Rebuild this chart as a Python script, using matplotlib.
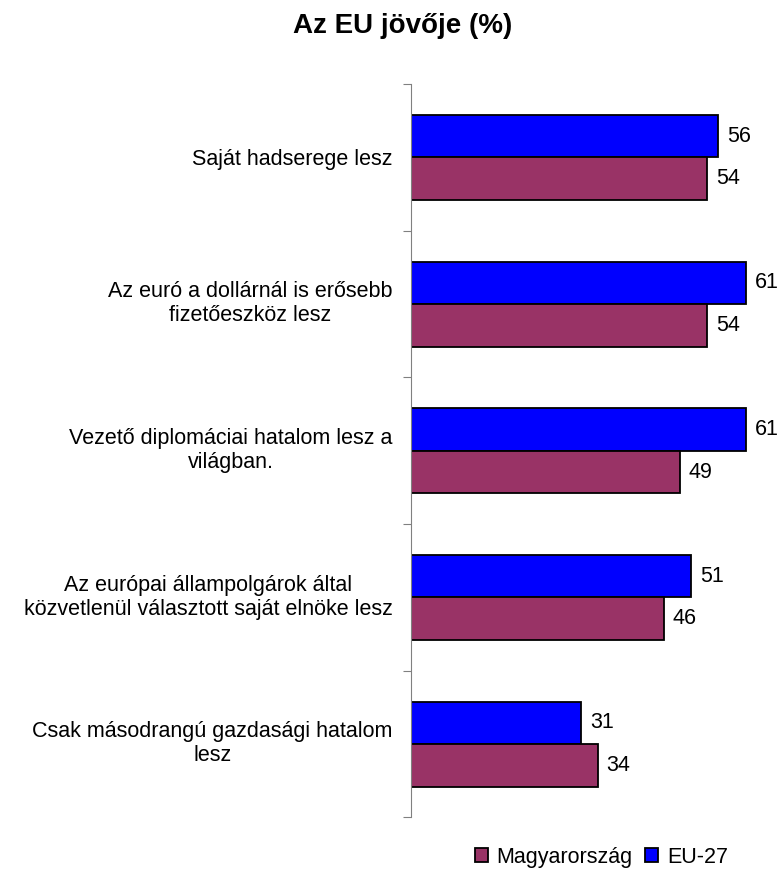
import numpy as np
import matplotlib.pyplot as plt

plt.rcParams['font.family'] = ['Liberation Sans', 'DejaVu Sans']

categories = [
    "Saját hadserege lesz",
    "Az euró a dollárnál is erősebb\nfizetőeszköz lesz",
    "Vezető diplomáciai hatalom lesz a\nvilágban.",
    "Az európai állampolgárok által\nközvetlenül választott saját elnöke lesz",
    "Csak másodrangú gazdasági hatalom\nlesz",
]
eu27 = [56, 61, 61, 51, 31]
magyar = [54, 54, 49, 46, 34]

fig = plt.figure(figsize=(7.78, 8.71), dpi=100)
ax = fig.add_axes([0.528, 0.0615, 0.459, 0.842])

y = np.arange(len(categories))
h = 0.29
b1 = ax.barh(y - h / 2, eu27, height=h, color='#0000FF', edgecolor='black', linewidth=1.3, label='EU-27')
b2 = ax.barh(y + h / 2, magyar, height=h, color='#993366', edgecolor='black', linewidth=1.3, label='Magyarország')

for bars, vals in [(b1, eu27), (b2, magyar)]:
    for bar, v in zip(bars, vals):
        ax.text(v + 1.6, bar.get_y() + bar.get_height() / 2, str(v), va='center', ha='left', fontsize=15.5)

ax.set_xlim(0, 65)
ax.set_ylim(len(categories) - 0.5, -0.5)
ax.set_yticks(np.arange(-0.5, len(categories)), minor=False)
ax.set_yticklabels([])
# multi-line labels sit a little above the group centre in the original
label_pos = [yy - 0.03 if '\n' in c else yy for yy, c in zip(y, categories)]
ax.set_yticks(label_pos, minor=True)
ax.set_yticklabels(categories, minor=True, fontsize=15.5, multialignment='center')
ax.tick_params(axis='y', which='major', length=6, color='#808080', direction='out')
ax.tick_params(axis='y', which='minor', length=0, pad=13)
ax.set_xticks([])
for s in ['top', 'right', 'bottom']:
    ax.spines[s].set_visible(False)
ax.spines['left'].set_color('#808080')

fig.text(0.517, 0.962, "Az EU jövője (%)", fontsize=20, fontweight='bold', ha='center', va='baseline')

handles = [b2, b1]
fig.legend(handles, ['Magyarország', 'EU-27'], loc='center', bbox_to_anchor=(0.773, 0.016), ncol=2,
           frameon=False, fontsize=15.5, handlelength=0.6, handleheight=0.6, handletextpad=0.4,
           columnspacing=0.6, borderpad=0)

fig.savefig('out.png', dpi=100)
